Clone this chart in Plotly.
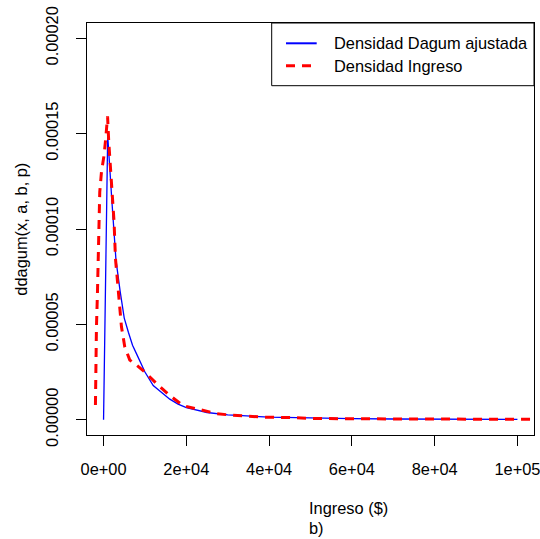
import plotly.graph_objects as go

# ---- data ----
dagum_x = [0, 1000, 2000, 3000, 4000, 5000, 6000, 7000, 8000, 9000, 10000,
           12000, 14000, 16000, 18000, 20000, 25000, 30000, 40000, 50000,
           60000, 70000, 80000, 90000, 100000]
dagum_y = [0.0, 1.49e-4, 1.151e-4, 8.37e-5, 6.74e-5, 5.33e-5, 4.59e-5, 3.91e-5,
           3.44e-5, 2.92e-5, 2.50e-5, 1.79e-5, 1.42e-5, 1.08e-5, 8.2e-6, 6.4e-6,
           3.8e-6, 2.5e-6, 1.4e-6, 9e-7, 6e-7, 4e-7, 3e-7, 2e-7, 2e-7]

ingreso_x = [-1960, -1886, -1717, -1475, -1330, -1160, -919, -508, 121, 532, 967,
             1257, 1499, 1910, 2297, 2539, 2877, 3361, 3917, 4328, 5126, 6335,
             7955, 9962, 13178, 16007, 19223, 23261, 27299, 31313, 35351, 39389,
             45000, 49860, 59500, 71600, 83700, 95800, 104000]
ingreso_y = [7.7e-6, 3.13e-5, 4.86e-5, 6.64e-5, 8.47e-5, 1.02e-4, 1.193e-4, 1.298e-4,
             1.387e-4, 1.476e-4, 1.591e-4, 1.456e-4, 1.369e-4, 1.265e-4, 1.142e-4,
             1.037e-4, 8.46e-5, 7.32e-5, 5.75e-5, 4.87e-5, 3.82e-5, 3.13e-5, 2.87e-5,
             2.50e-5, 1.82e-5, 1.27e-5, 7.4e-6, 5.3e-6, 3.2e-6, 2.3e-6, 1.7e-6, 1.3e-6,
             1.15e-6, 7e-7, 5e-7, 4e-7, 3e-7, 2e-7, 2e-7]

x_ticks = [0, 20000, 40000, 60000, 80000, 100000]
x_tick_labels = ["0e+00", "2e+04", "4e+04", "6e+04", "8e+04", "1e+05"]
y_ticks = [0, 0.00005, 0.00010, 0.00015, 0.00020]
y_tick_labels = ["0.00000", "0.00005", "0.00010", "0.00015", "0.00020"]

series_names = ["Densidad Dagum ajustada", "Densidad Ingreso"]

FONT = "Liberation Sans, Arial, Helvetica, sans-serif"
FS = 16.4

fig = go.Figure()
fig.add_trace(go.Scatter(x=dagum_x, y=dagum_y, mode="lines", name=series_names[0],
                         line=dict(color="#0000FF", width=1.3), showlegend=False))
fig.add_trace(go.Scatter(x=ingreso_x, y=ingreso_y, mode="lines", name=series_names[1],
                         line=dict(color="#FF0000", width=3, dash="9px,7px"),
                         showlegend=False))

L, R, T, B = 87, 6, 23, 104
W, H = 540, 539
pw, ph = W - L - R, H - T - B


def xp(px):
    return (px - L) / pw


def yp(py):
    return (H - B - py) / ph


axis_common = dict(showline=True, linecolor="black", linewidth=1, mirror=True,
                   ticks="outside", ticklen=10, tickwidth=1, tickcolor="black",
                   showgrid=False, zeroline=False, ticklabeloverflow="allow",
                   automargin=False,
                   tickfont=dict(family=FONT, size=FS, color="black"))

fig.update_xaxes(range=[-4000, 104000], tickvals=x_ticks, ticktext=x_tick_labels,
                 ticklabelstandoff=9, **axis_common)
fig.update_yaxes(range=[-0.000008, 0.000208], tickvals=y_ticks, ticktext=y_tick_labels,
                 tickangle=-90, ticklabelstandoff=11, **axis_common)

# legend (R-style box)
shapes = [
    dict(type="rect", xref="paper", yref="paper", x0=xp(271.7), x1=1.0,
         y0=yp(85.7), y1=1.0, line=dict(color="black", width=1), fillcolor="white"),
    dict(type="line", xref="paper", yref="paper", x0=xp(286), x1=xp(316.7),
         y0=yp(43.3), y1=yp(43.3), line=dict(color="#0000FF", width=2)),
    dict(type="line", xref="paper", yref="paper", x0=xp(286), x1=xp(316.7),
         y0=yp(65.7), y1=yp(65.7), line=dict(color="#FF0000", width=3, dash="9px,7px")),
]
annotations = [
    dict(text=series_names[0], xref="paper", yref="paper", x=xp(331.7), y=yp(43.3),
         xanchor="left", yanchor="middle", showarrow=False,
         font=dict(family=FONT, size=FS, color="black")),
    dict(text=series_names[1], xref="paper", yref="paper", x=xp(331.7), y=yp(65.7),
         xanchor="left", yanchor="middle", showarrow=False,
         font=dict(family=FONT, size=FS, color="black")),
    dict(text="Ingreso ($)", xref="paper", yref="paper", x=xp(306.7), y=yp(508.3),
         xanchor="left", yanchor="middle", showarrow=False,
         font=dict(family=FONT, size=FS, color="black")),
    dict(text="b)", xref="paper", yref="paper", x=xp(306.7), y=yp(528.3),
         xanchor="left", yanchor="middle", showarrow=False,
         font=dict(family=FONT, size=FS, color="black")),
    dict(text="ddagum(x, a, b, p)", xref="paper", yref="paper", x=xp(20.7), y=0.5,
         xanchor="center", yanchor="middle", textangle=-90, showarrow=False,
         font=dict(family=FONT, size=FS, color="black")),
]

fig.update_layout(width=W, height=H, margin=dict(l=L, r=R, t=T, b=B, autoexpand=False),
                  paper_bgcolor="white", plot_bgcolor="white",
                  shapes=shapes, annotations=annotations, showlegend=False)

fig.write_html("out.html")
